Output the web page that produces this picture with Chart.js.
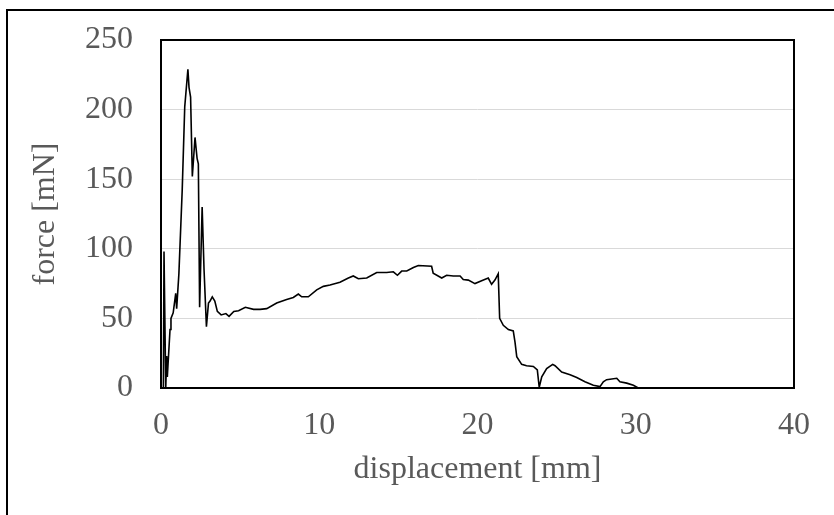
<!DOCTYPE html>
<html>
<head>
<meta charset="utf-8">
<script src="https://cdn.jsdelivr.net/npm/chart.js@4"></script>
<style>
  html, body { margin: 0; padding: 0; background: #fff; }
  #wrap { width: 834px; height: 515px; position: relative; }
</style>
</head>
<body>
<div id="wrap"><canvas id="forceChart" width="834" height="515"></canvas></div>
<script>
// displacement [mm] and measured force [mN]
const displacement = [0.15, 0.19, 0.3, 0.36, 0.4, 0.57, 0.63, 0.77, 0.93, 0.99, 1.13, 1.34, 1.5, 1.7, 1.77, 1.87, 1.98, 2.15, 2.28, 2.36, 2.44, 2.6, 2.72, 2.87, 3.0, 3.1, 3.24, 3.4, 3.56, 3.8, 4.1, 4.3, 4.6, 4.9, 5.33, 5.85, 6.26, 6.68, 7.31, 7.94, 8.36, 8.68, 8.89, 9.31, 9.84, 10.26, 10.68, 11.31, 11.84, 12.15, 12.47, 13.0, 13.63, 14.26, 14.68, 14.94, 15.21, 15.53, 15.95, 16.26, 17.1, 17.2, 17.74, 18.05, 18.47, 18.9, 19.1, 19.42, 19.84, 20.26, 20.68, 20.89, 21.1, 21.31, 21.4, 21.63, 21.95, 22.26, 22.37, 22.48, 22.79, 23.1, 23.53, 23.78, 23.9, 24.06, 24.37, 24.75, 24.9, 25.32, 25.85, 26.27, 26.79, 27.32, 27.74, 27.95, 28.16, 28.8, 29.0, 29.43, 29.85, 30.16];
const force = [0, 98, 0, 23, 8, 42, 50, 54, 68, 57, 82, 142, 202, 229, 216, 209, 152, 180, 165, 161, 58, 130, 85, 44, 61, 62.5, 65.5, 62.5, 55, 52.5, 53.5, 51.5, 55, 55.5, 58, 56.5, 56.5, 57, 61, 63.5, 65, 67.5, 65.5, 65.5, 70.5, 73, 74, 76, 79, 80.5, 78.5, 79, 83, 83, 83.5, 81, 84, 84, 86.5, 88, 87.5, 82.5, 79, 81, 80.5, 80.5, 78, 77.5, 75, 77, 79, 74.5, 77.5, 82, 50, 45, 42, 41, 33, 22.5, 17, 16, 15.5, 13, 0.5, 8, 14, 17, 16, 11.5, 9.5, 7.5, 4.5, 2, 1, 4.5, 6, 7, 4.5, 3.5, 2, 0];

const xTicks = [0, 10, 20, 30, 40];
const yTicks = [0, 50, 100, 150, 200, 250];

const points = displacement.map((d, i) => ({ x: d, y: force[i] }));

const labelFont = { family: "'Liberation Serif', 'Times New Roman', serif", size: 32 };
const labelColor = '#595959';

// black box round the plot area and the frame line top/left
const framePlugin = {
  id: 'frame',
  afterDraw(chart) {
    const { ctx, chartArea: a } = chart;
    ctx.save();
    ctx.strokeStyle = '#000';
    ctx.lineWidth = 2;
    ctx.strokeRect(a.left, a.top, a.right - a.left, a.bottom - a.top);
    ctx.beginPath();
    ctx.moveTo(7, 515);
    ctx.lineTo(7, 10);
    ctx.lineTo(834, 10);
    ctx.stroke();
    ctx.restore();
  }
};

new Chart(document.getElementById('forceChart').getContext('2d'), {
  type: 'scatter',
  data: {
    datasets: [{
      data: points,
      showLine: true,
      borderColor: '#000',
      borderWidth: 1.6,
      pointRadius: 0,
      tension: 0
    }]
  },
  options: {
    responsive: false,
    animation: false,
    layout: { padding: { top: 40, right: 40, left: 0, bottom: 0 } },
    plugins: { legend: { display: false }, tooltip: { enabled: false } },
    scales: {
      x: {
        type: 'linear',
        min: xTicks[0],
        max: xTicks[xTicks.length - 1],
        afterBuildTicks: s => { s.ticks = xTicks.map(v => ({ value: v })); },
        afterFit: s => { s.height = 127; s.paddingLeft = 0; s.paddingRight = 0; },
        grid: { display: false, drawTicks: false },
        border: { display: false },
        ticks: { color: labelColor, font: labelFont, padding: 18, maxRotation: 0 },
        title: { display: true, text: 'displacement [mm]', color: labelColor, font: labelFont, padding: { top: 0, bottom: 26 } }
      },
      y: {
        min: yTicks[0],
        max: yTicks[yTicks.length - 1],
        afterBuildTicks: s => { s.ticks = yTicks.map(v => ({ value: v })); },
        afterFit: s => { s.width = 161; s.paddingTop = 0; s.paddingBottom = 0; },
        grid: { color: '#d9d9d9', lineWidth: 1, drawTicks: false },
        border: { display: false },
        ticks: { color: labelColor, font: labelFont, padding: 28 },
        title: { display: true, text: 'force [mN]', color: labelColor, font: labelFont, padding: { top: 26, bottom: 0 } }
      }
    }
  },
  plugins: [framePlugin]
});
</script>
</body>
</html>
